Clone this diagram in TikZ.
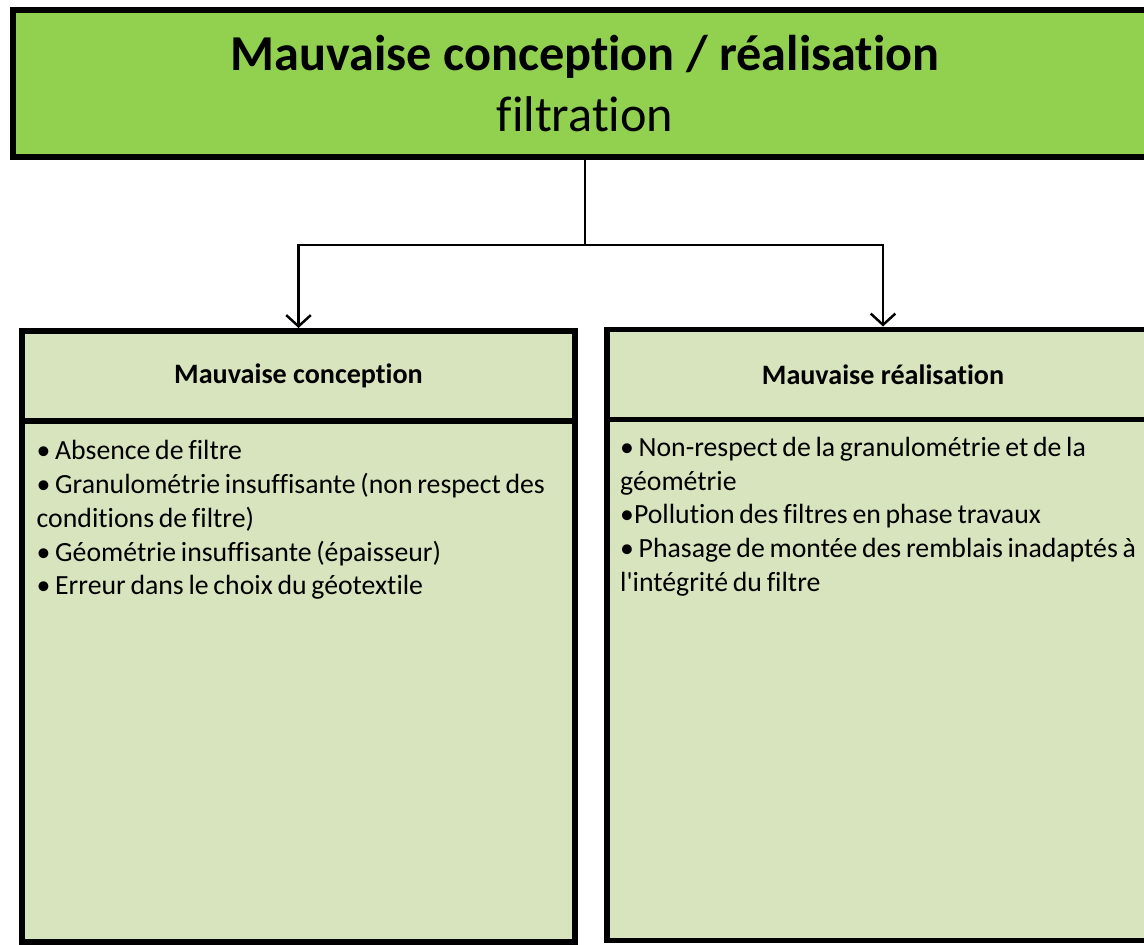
\documentclass[tikz,border=0pt]{standalone}
\usepackage{fontspec}
\setmainfont{Carlito}[Ligatures=NoCommon]
\usepackage{xcolor}
\usetikzlibrary{arrows.meta, positioning}

\definecolor{titlegreen}{HTML}{92D050}
\definecolor{palegreen}{HTML}{D7E4BD}
\newcommand{\tightspacing}{\spaceskip=0.17em plus 0.05em minus 0.02em\relax}

\begin{document}
\begin{tikzpicture}[
  every node/.style={font=\fontsize{8}{9.6}\selectfont},
  topbox/.style={draw, rectangle, fill=titlegreen, line width=1.7pt, minimum width=11.44cm, minimum height=1.47cm, align=center},
  headbox/.style={draw, rectangle, fill=palegreen, line width=1.7pt, minimum width=5.53cm, minimum height=0.9cm, font=\fontsize{8}{9.6}\selectfont\bfseries},
  bodybox/.style={draw, rectangle, fill=palegreen, line width=1.7pt, minimum width=5.53cm, minimum height=5.21cm},
  itemtext/.style={anchor=north west, align=left, inner sep=0pt, font=\fontsize{7.9}{9.6}\selectfont\tightspacing},
  conn/.style={line width=0.7pt, -{Straight Barb[length=3.2pt, width=7pt]}}
]
\useasboundingbox (0,0) rectangle (11.44,-9.45);

% Nodes
\node[topbox] (top) at (5.85,-0.835)
  {{\fontsize{14.3}{16}\selectfont\bfseries Mauvaise conception / réalisation}\\[4pt]
   {\fontsize{14.3}{16}\selectfont filtration}};

\node[headbox] (conception) at (2.985,-3.76) {Mauvaise conception};
\node[bodybox, below=-1.7pt of conception] (conceptionbody) {};
\node[headbox] (realisation) at (8.83,-3.745) {Mauvaise réalisation};
\node[bodybox, below=-1.7pt of realisation] (realisationbody) {};

\node[itemtext] (conceptionlist) at ([xshift=0.17cm, yshift=-0.22cm]conceptionbody.north west)
  {•\,Absence de filtre\\
   •\,Granulométrie insuffisante (non respect des\\
   conditions de filtre)\\
   •\,Géométrie insuffisante (épaisseur)\\
   •\,Erreur dans le choix du géotextile};
\node[itemtext] (realisationlist) at ([xshift=0.16cm, yshift=-0.2cm]realisationbody.north west)
  {•\,Non-respect de la granulométrie et de la\\
   géométrie\\
   •Pollution des filtres en phase travaux\\
   •\,Phasage de montée des remblais inadaptés à\\
   l\textquotesingle intégrité du filtre};

% Arrows
\draw[line width=0.7pt] (top.south) -- ++(0,-0.85) coordinate (split);
\draw[conn] (split) -| (conception.north);
\draw[conn] (split) -| (realisation.north);
\end{tikzpicture}
\end{document}
